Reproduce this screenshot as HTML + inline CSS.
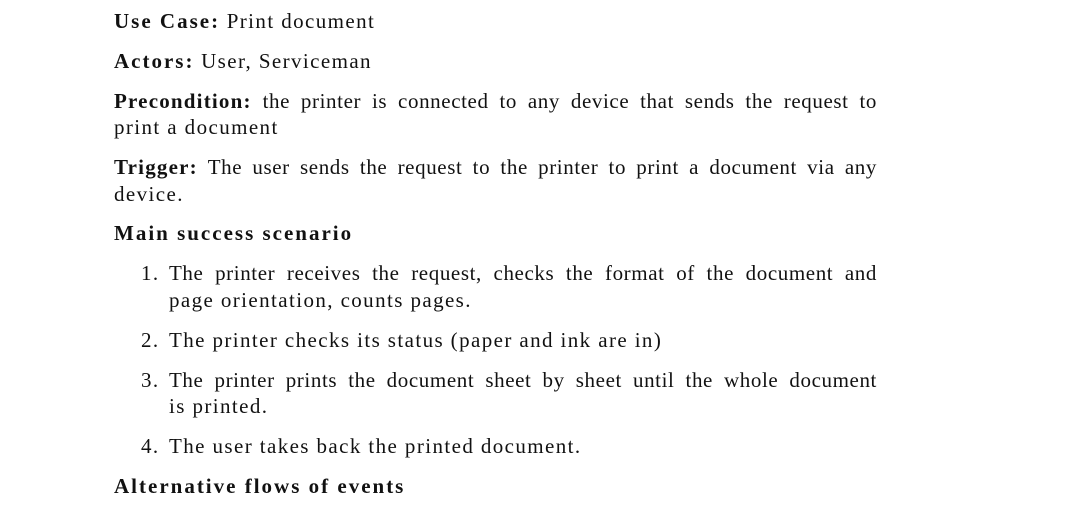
<!DOCTYPE html>
<html><head><meta charset="utf-8"><style>
body{margin:0;width:1073px;height:530px;background:#fff;overflow:hidden;position:relative;font-family:"Liberation Serif",serif;font-size:21px;letter-spacing:1.4px;color:#111}
.l{position:absolute;line-height:24px;white-space:nowrap}
.j{text-align:justify;text-align-last:justify;letter-spacing:0.6px}
.j b{letter-spacing:1.2px}
b{font-weight:bold;letter-spacing:2px}
</style></head><body>
<div class="l" style="left:114px;top:9px"><b>Use Case:</b> Print document</div>
<div class="l" style="left:114px;top:49px"><b>Actors:</b> User, Serviceman</div>
<div class="l j" style="left:114px;top:89px;width:763px"><b>Precondition:</b> the printer is connected to any device that sends the request to</div>
<div class="l" style="left:114px;top:115px">print a document</div>
<div class="l j" style="left:114px;top:155px;width:763px"><b>Trigger:</b> The user sends the request to the printer to print a document via any</div>
<div class="l" style="left:114px;top:182px">device.</div>
<div class="l" style="left:114px;top:221px"><b>Main success scenario</b></div>
<div class="l" style="left:141px;top:261px">1.</div>
<div class="l j" style="left:169px;top:261px;width:708px">The printer receives the request, checks the format of the document and</div>
<div class="l" style="left:169px;top:288px">page orientation, counts pages.</div>
<div class="l" style="left:141px;top:328px">2.</div>
<div class="l" style="left:169px;top:328px">The printer checks its status (paper and ink are in)</div>
<div class="l" style="left:141px;top:368px">3.</div>
<div class="l j" style="left:169px;top:368px;width:708px">The printer prints the document sheet by sheet until the whole document</div>
<div class="l" style="left:169px;top:394px">is printed.</div>
<div class="l" style="left:141px;top:434px">4.</div>
<div class="l" style="left:169px;top:434px">The user takes back the printed document.</div>
<div class="l" style="left:114px;top:474px"><b>Alternative flows of events</b></div>
</body></html>
